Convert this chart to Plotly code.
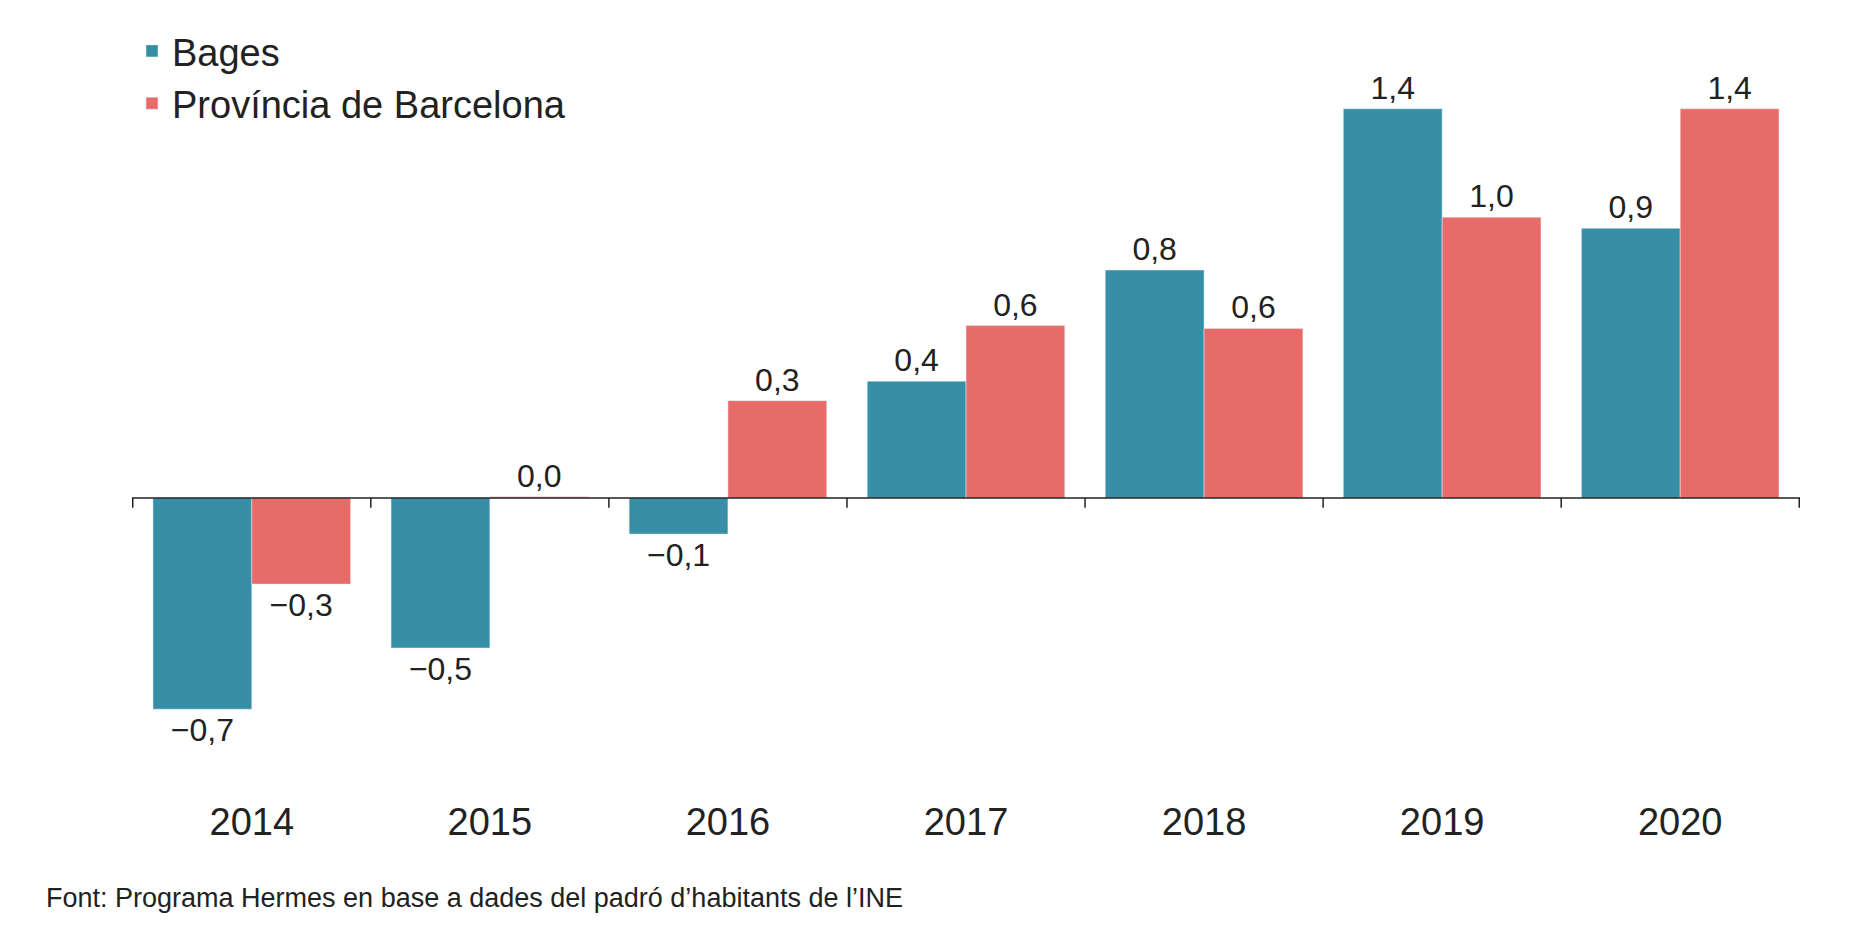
import plotly.graph_objects as go

years = ['2014', '2015', '2016', '2017', '2018', '2019', '2020']
bages = [-0.76, -0.54, -0.13, 0.42, 0.82, 1.40, 0.97]
bages_labels = ['−0,7', '−0,5', '−0,1', '0,4', '0,8', '1,4', '0,9']
barcelona = [-0.31, 0.004, 0.35, 0.62, 0.61, 1.01, 1.40]
barcelona_labels = ['−0,3', '0,0', '0,3', '0,6', '0,6', '1,0', '1,4']

font = 'Liberation Sans, Arial, sans-serif'

fig = go.Figure()
fig.add_trace(go.Bar(x=years, y=bages, name='Bages', marker_color='#368FA7',
                     text=bages_labels, textposition='outside', cliponaxis=False,
                     textfont=dict(size=32, color='#222')))
fig.add_trace(go.Bar(x=years, y=barcelona, name='Província de Barcelona', marker_color='#E76B69',
                     text=barcelona_labels, textposition='outside', cliponaxis=False,
                     textfont=dict(size=32, color='#222')))

# ticks at category boundaries on the zero line
for i in range(len(years) + 1):
    fig.add_shape(type='line', xref='x', yref='y', x0=i - 0.5, x1=i - 0.5, y0=0, y1=-0.035,
                  line=dict(color='#222', width=1.5))

fig.add_annotation(text='Font: Programa Hermes en base a dades del padró d’habitants de l’INE',
                   xref='paper', yref='paper', x=-0.053, y=-0.2, xanchor='left', yanchor='middle',
                   showarrow=False, font=dict(size=27, color='#222', family=font))

fig.update_layout(
    width=1872, height=948,
    margin=dict(l=124, r=80, t=68, b=194),
    plot_bgcolor='white', paper_bgcolor='white',
    font=dict(family=font, color='#222'),
    barmode='group', bargap=0.17, bargroupgap=0,
    showlegend=True,
    legend=dict(x=0.0, y=1.09, xanchor='left', yanchor='top', font=dict(size=38),
                bgcolor='rgba(0,0,0,0)', itemwidth=30, tracegroupgap=20),
    xaxis=dict(showline=False, ticks='', tickfont=dict(size=38), ticklabelstandoff=34),
    yaxis=dict(range=[-0.95, 1.5], visible=False, zeroline=True),
)
fig.add_hline(y=0, line=dict(color='#222', width=1.5))

fig.write_html('out.html')
